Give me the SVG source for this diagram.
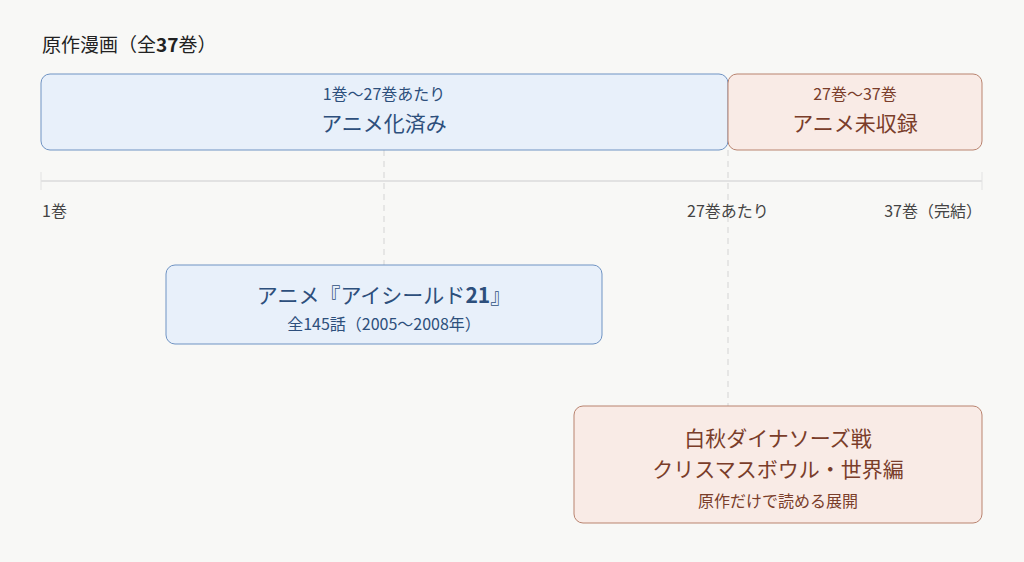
<svg xmlns="http://www.w3.org/2000/svg" width="1024" height="562" viewBox="0 0 1024 562">
<style>
text{font-family:"Noto Sans CJK JP","Noto Sans",sans-serif;text-anchor:middle}
.b{fill:#e8f0fa;stroke:#6f93c3;stroke-width:1}
.r{fill:#f9ebe6;stroke:#b9836f;stroke-width:1}
.bt{fill:#2d4f7c}.rt{fill:#7a3d2a}
.ax{fill:#444;font-size:16px}
.d{stroke:#d4d4d4;stroke-dasharray:6 5;fill:none}
</style>
<rect width="1024" height="562" fill="#f8f8f6"/>
<text x="42" y="52" style="text-anchor:start;font-size:19px;fill:#222">原作漫画（全<tspan font-weight="bold">37</tspan>巻）</text>
<g id="connectors">
<line x1="41" y1="181" x2="982" y2="181" stroke="#e2e2e2" stroke-width="2"/>
<line x1="41" y1="172" x2="41" y2="190" stroke="#e2e2e2"/>
<line x1="982" y1="172" x2="982" y2="190" stroke="#e2e2e2"/>
<line class="d" x1="384" y1="150" x2="384" y2="265"/>
<line class="d" x1="728" y1="150" x2="728" y2="406"/>
</g>
<g id="anime-done"><rect class="b" x="41" y="74" width="687" height="76" rx="9"/>
<text class="bt" x="384" y="100" font-size="16">1巻〜27巻あたり</text>
<text class="bt" x="384" y="131" font-size="21">アニメ化済み</text></g>
<g id="anime-not"><rect class="r" x="728" y="74" width="254" height="76" rx="9"/>
<text class="rt" x="855" y="100" font-size="16">27巻〜37巻</text>
<text class="rt" x="855" y="131" font-size="21">アニメ未収録</text></g>
<g id="axis-labels">
<text class="ax" x="42" y="217" style="text-anchor:start">1巻</text>
<text class="ax" x="728" y="217">27巻あたり</text>
<text class="ax" x="982" y="217" style="text-anchor:end">37巻（完結）</text></g>
<g id="anime"><rect class="b" x="166" y="265" width="436" height="79" rx="9"/>
<text class="bt" x="384" y="303" font-size="21">アニメ『アイシールド<tspan font-weight="bold">21</tspan>』</text>
<text class="bt" x="384" y="330" font-size="16">全145話（2005〜2008年）</text></g>
<g id="original"><rect class="r" x="574" y="406" width="408" height="117" rx="9"/>
<text class="rt" x="778" y="446" font-size="21">白秋ダイナソーズ戦</text>
<text class="rt" x="778" y="477" font-size="21">クリスマスボウル・世界編</text>
<text class="rt" x="778" y="507" font-size="16">原作だけで読める展開</text></g>
</svg>
